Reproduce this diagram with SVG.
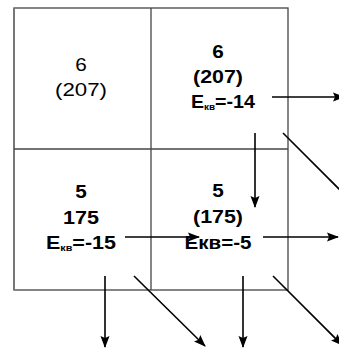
<svg xmlns="http://www.w3.org/2000/svg" width="339" height="348" viewBox="0 0 339 348">
<style>
.grid{fill:none;stroke:#444;stroke-width:1.3}
.edge{stroke:#777;stroke-width:2}
.t{font-family:"Liberation Sans",Arial,sans-serif;font-size:18px;fill:#000;text-anchor:middle}
.b{font-weight:bold}
.sub{font-size:9px}
.c line{stroke:#000;stroke-width:1.6;marker-end:url(#ah)}
</style>
<defs>
<marker id="ah" markerUnits="userSpaceOnUse" markerWidth="12" markerHeight="10" viewBox="0 0 12 10" refX="11" refY="5" orient="auto">
<path d="M0,0.5 L12,5 L0,9.5 L2,5 Z" fill="#000"/>
</marker>
</defs>
<rect width="339" height="348" fill="#fff"/>
<g id="grid">
<rect class="grid" x="14" y="8" width="274" height="282"/>
<line class="edge" x1="14" y1="8" x2="14" y2="290"/>
<line class="grid" x1="151" y1="8" x2="151" y2="290"/>
<line class="grid" x1="14" y1="149" x2="288" y2="149"/>
</g>
<g id="cell-tl">
<text class="t" x="81" y="71" transform="translate(81 0) scale(1.15 1) translate(-81 0)">6</text>
<text class="t" x="81" y="96" textLength="52" lengthAdjust="spacingAndGlyphs">(207)</text>
</g>
<g id="cell-tr">
<text class="t b" x="218" y="58" transform="translate(218 0) scale(1.15 1) translate(-218 0)">6</text>
<text class="t b" x="218" y="83" textLength="50" lengthAdjust="spacingAndGlyphs">(207)</text>
<text class="t b" x="223" y="108" textLength="64" lengthAdjust="spacingAndGlyphs">E<tspan class="sub" dy="2">кв</tspan><tspan dy="-2">=-14</tspan></text>
</g>
<g id="cell-bl">
<text class="t b" x="81" y="198" transform="translate(81 0) scale(1.15 1) translate(-81 0)">5</text>
<text class="t b" x="81" y="224" textLength="36" lengthAdjust="spacingAndGlyphs">175</text>
<text class="t b" x="81" y="249" textLength="70" lengthAdjust="spacingAndGlyphs">E<tspan class="sub" dy="2">кв</tspan><tspan dy="-2">=-15</tspan></text>
</g>
<g id="cell-br">
<text class="t b" x="218" y="197" transform="translate(218 0) scale(1.15 1) translate(-218 0)">5</text>
<text class="t b" x="218" y="223" textLength="50" lengthAdjust="spacingAndGlyphs">(175)</text>
<text class="t b" x="218" y="249" textLength="67" lengthAdjust="spacingAndGlyphs">Eкв=-5</text>
</g>
<g id="connectors" class="c">
<line x1="272" y1="97" x2="344" y2="97"/>
<line x1="255" y1="133" x2="255" y2="207"/>
<line x1="283" y1="133" x2="352" y2="202"/>
<line x1="125" y1="237" x2="199" y2="237"/>
<line x1="105" y1="276" x2="105" y2="347"/>
<line x1="134" y1="276" x2="205" y2="346"/>
<line x1="263" y1="237" x2="338" y2="237"/>
<line x1="243" y1="276" x2="243" y2="347"/>
<line x1="273" y1="276" x2="342" y2="345"/>
</g>
</svg>
